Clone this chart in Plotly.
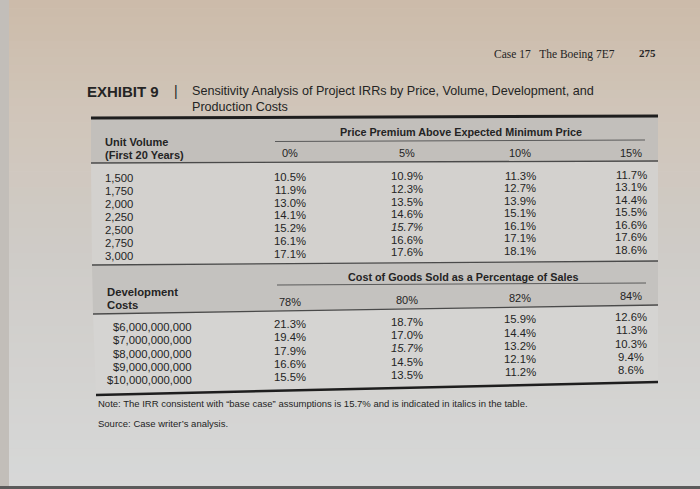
import plotly.graph_objects as go

# ---------------- data ----------------
running_head = "Case 17   The Boeing 7E7"
page_number = "275"
exhibit_label = "EXHIBIT 9"
title_line1 = "Sensitivity Analysis of Project IRRs by Price, Volume, Development, and"
title_line2 = "Production Costs"

price_group_title = "Price Premium Above Expected Minimum Price"
volume_header = ["Unit Volume", "(First 20 Years)"]
price_premiums = ["0%", "5%", "10%", "15%"]
unit_volumes = ["1,500", "1,750", "2,000", "2,250", "2,500", "2,750", "3,000"]
irr_price_0 = [10.5, 11.9, 13.0, 14.1, 15.2, 16.1, 17.1]
irr_price_5 = [10.9, 12.3, 13.5, 14.6, 15.7, 16.6, 17.6]
irr_price_10 = [11.3, 12.7, 13.9, 15.1, 16.1, 17.1, 18.1]
irr_price_15 = [11.7, 13.1, 14.4, 15.5, 16.6, 17.6, 18.6]

cogs_group_title = "Cost of Goods Sold as a Percentage of Sales"
dev_header = ["Development", "Costs"]
cogs_pcts = ["78%", "80%", "82%", "84%"]
dev_costs = ["$6,000,000,000", "$7,000,000,000", "$8,000,000,000",
             "$9,000,000,000", "$10,000,000,000"]
irr_cogs_78 = [21.3, 19.4, 17.9, 16.6, 15.5]
irr_cogs_80 = [18.7, 17.0, 15.7, 14.5, 13.5]
irr_cogs_82 = [15.9, 14.4, 13.2, 12.1, 11.2]
irr_cogs_84 = [12.6, 11.3, 10.3, 9.4, 8.6]

base_case_irr = 15.7
note_text = "Note: The IRR consistent with \u201cbase case\u201d assumptions is 15.7% and is indicated in italics in the table."
source_text = "Source: Case writer\u2019s analysis."

# ---------------- styling ----------------
W, H = 700, 489
INK = "#242424"
SANS = "Liberation Sans, Arial, Helvetica, sans-serif"
SERIF = "Liberation Serif, Times New Roman, serif"

fig = go.Figure()
shapes = []
ann = []


def lerp_hex(c1, c2, t):
    a = [int(c1[i:i + 2], 16) for i in (1, 3, 5)]
    b = [int(c2[i:i + 2], 16) for i in (1, 3, 5)]
    return "#" + "".join(f"{round(a[k] + (b[k] - a[k]) * t):02x}" for k in range(3))


# photographed page background (vertical colour drift)
stops = [(0, "#ccbba9"), (110, "#d0c5b9"), (260, "#cfccc8"), (489, "#d7d8d8")]
n = 60
for s in range(n):
    y0 = H * s / n
    y1 = H * (s + 1) / n + 0.6
    ym = (y0 + y1) / 2
    for (ya, ca), (yb, cb) in zip(stops[:-1], stops[1:]):
        if ya <= ym <= yb:
            col = lerp_hex(ca, cb, (ym - ya) / (yb - ya))
            break
    shapes.append(dict(type="rect", xref="x", yref="y", x0=0, x1=W, y0=y0, y1=y1,
                       fillcolor=col, line=dict(width=0), layer="below"))
shapes.append(dict(type="rect", xref="x", yref="y", x0=0, x1=9, y0=0, y1=H,
                   fillcolor="#c2beb9", line=dict(width=0), layer="below"))
shapes.append(dict(type="rect", xref="x", yref="y", x0=0, x1=W, y0=486, y1=H,
                   fillcolor="#5b5b5b", line=dict(width=0), layer="below"))


def poly(pts, fill):
    path = "M " + " L ".join(f"{x},{y}" for x, y in pts) + " Z"
    shapes.append(dict(type="path", xref="x", yref="y", path=path, fillcolor=fill,
                       line=dict(width=0), layer="below"))


def rule(x0, y0, x1, y1, w, col="#4a4a4a"):
    shapes.append(dict(type="line", xref="x", yref="y", x0=x0, y0=y0, x1=x1, y1=y1,
                       line=dict(color=col, width=w)))


def text(x, y, s, size, anchor="left", bold=False, family=SANS, color=INK):
    if bold:
        s = f"<b>{s}</b>"
    ann.append(dict(x=x, y=y, xref="x", yref="y", text=s, showarrow=False,
                    xanchor=anchor, yanchor="middle", borderpad=0,
                    font=dict(family=family, size=size, color=color)))


# table bands
poly([(91, 119), (658, 117), (658, 161), (91, 163)], "#c2bfbb")
poly([(91, 163), (658, 161), (658, 261), (92, 265)], "#d3d1ce")
poly([(92, 265), (658, 261), (658, 305), (93, 314)], "#c4c2bf")
poly([(93, 314), (658, 305), (658, 382), (96, 395)], "#d5d4d2")

rule(91, 118, 658, 116, 3, "#1e1e1e")
rule(275, 141.5, 645, 140, 1, "#5a5a5a")
rule(91, 163, 658, 161, 1.3)
rule(92, 265, 658, 261, 1.3)
rule(277, 285, 646, 283, 1, "#5a5a5a")
rule(93, 314, 658, 305, 1.3)
rule(96, 395, 658, 382, 2.5, "#1e1e1e")

BODY = 11.3
HEAD = 11

# running head
text(493, 54, running_head, 11.5, family=SERIF)
text(657, 53, page_number, 11, anchor="right", bold=True, family=SERIF)

# exhibit title
text(86, 91, exhibit_label, 15, bold=True)
text(176, 91, "|", 14, anchor="center")
text(191, 91, title_line1, 12.6)
text(191, 107, title_line2, 12.6)

# ---- top table ----
text(461, 132, price_group_title, 10.8, anchor="center", bold=True)
text(104, 142, volume_header[0], HEAD, bold=True)
text(104, 155, volume_header[1], HEAD, bold=True)
col_x = [290, 407, 520, 631]
for cx, lab in zip(col_x, price_premiums):
    text(cx, 153, lab, HEAD, anchor="center")

price_cols = [irr_price_0, irr_price_5, irr_price_10, irr_price_15]


def top_y(i, x):
    return 178 + i * 13.0 - (0.006 + 0.0010 * i) * (x - 104)


for i, vol in enumerate(unit_volumes):
    text(104, top_y(i, 104), vol, BODY)
    for cx, col in zip(col_x, price_cols):
        v = col[i]
        s = f"{v:.1f}%"
        if v == base_case_irr:
            s = f"<i>{s}</i>"
        text(cx, top_y(i, cx), s, BODY, anchor="center")

# ---- bottom table ----
text(463, 276.5, cogs_group_title, 10.8, anchor="center", bold=True)
text(106, 292, dev_header[0], 11.3, bold=True)
text(106, 305, dev_header[1], 11.3, bold=True)


def head2_y(x):
    return 302 - 0.018 * (x - 290)


for cx, lab in zip(col_x, cogs_pcts):
    text(cx, head2_y(cx), lab, HEAD, anchor="center")

cogs_cols = [irr_cogs_78, irr_cogs_80, irr_cogs_82, irr_cogs_84]


def bot_y(i, x):
    return 327 + i * 13.3 - 0.021 * (x - 150)


for i, dc in enumerate(dev_costs):
    text(193, bot_y(i, 150), dc, BODY, anchor="right")
    for cx, col in zip(col_x, cogs_cols):
        v = col[i]
        s = f"{v:.1f}%"
        if v == base_case_irr:
            s = f"<i>{s}</i>"
        text(cx, bot_y(i, cx), s, BODY, anchor="center")

# notes
text(97, 403, note_text, 9.5)
text(97, 423, source_text, 9.5)

fig.update_layout(
    width=W, height=H,
    margin=dict(l=0, r=0, t=0, b=0),
    paper_bgcolor="#d2ccc5", plot_bgcolor="rgba(0,0,0,0)",
    xaxis=dict(range=[0, W], visible=False, fixedrange=True),
    yaxis=dict(range=[H, 0], visible=False, fixedrange=True),
    shapes=shapes, annotations=ann, showlegend=False,
)
fig.write_html("out.html", config={"displayModeBar": False},
               post_script="document.body.style.margin='0';document.body.style.overflow='hidden';")
